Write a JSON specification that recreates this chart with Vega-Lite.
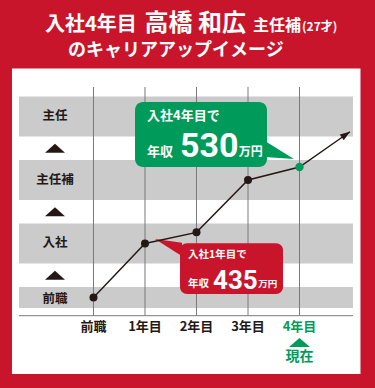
{
  "$schema": "https://vega.github.io/schema/vega-lite/v6.json",
  "width": 375,
  "height": 388,
  "autosize": {"type": "fit", "contains": "padding"},
  "padding": 0,
  "background": "#c8152c",
  "config": {"view": {"stroke": null}, "font": "Noto Sans CJK JP"},
  "encoding": {
    "x": {"field": "x", "type": "quantitative", "scale": {"domain": [-1.8155, 5.466], "nice": false, "zero": false}, "axis": null},
    "y": {"field": "y", "type": "quantitative", "scale": {"domain": [-1.2756, 4.8346], "nice": false, "zero": false}, "axis": null}
  },
  "layer": [
    {
      "data": {"values": [{"x": -1.583, "x2": 5.184, "y": 3.756, "y2": -1.055}]},
      "mark": {"type": "rect", "color": "#ffffff"},
      "encoding": {"x2": {"field": "x2"}, "y2": {"field": "y2"}}
    },
    {
      "data": {"values": [
        {"band": "主任", "x": -1.447, "x2": 5.039, "y": 2.685, "y2": 3.315},
        {"band": "主任補", "x": -1.447, "x2": 5.039, "y": 1.685, "y2": 2.315},
        {"band": "入社", "x": -1.447, "x2": 5.039, "y": 0.685, "y2": 1.315},
        {"band": "前職", "x": -1.447, "x2": 5.039, "y": -0.016, "y2": 0.315}
      ]},
      "mark": {"type": "rect", "color": "#cbcbcb"},
      "encoding": {"x2": {"field": "x2"}, "y2": {"field": "y2"}}
    },
    {
      "data": {"values": [
        {"x": 0, "y": 3.465, "y2": -0.137},
        {"x": 1, "y": 3.465, "y2": -0.137},
        {"x": 2, "y": 3.465, "y2": -0.137},
        {"x": 3, "y": 3.465, "y2": -0.137},
        {"x": 4, "y": 3.465, "y2": -0.137}
      ]},
      "mark": {"type": "rule", "color": "#7a7a7a", "strokeWidth": 1},
      "encoding": {"y2": {"field": "y2"}}
    },
    {
      "data": {"values": [{"x": -1.447, "x2": 5.039, "y": -0.137}]},
      "mark": {"type": "rule", "color": "#7a7a7a", "strokeWidth": 1},
      "encoding": {"x2": {"field": "x2"}}
    },
    {
      "data": {"values": [
        {"t": "主任", "x": -0.748, "y": 3.0},
        {"t": "主任補", "x": -0.748, "y": 2.0},
        {"t": "入社", "x": -0.748, "y": 1.0},
        {"t": "前職", "x": -0.748, "y": 0.13}
      ]},
      "mark": {"type": "text", "align": "center", "baseline": "middle", "fontSize": 12.5, "fontWeight": "bold", "color": "#231815"},
      "encoding": {"text": {"field": "t"}}
    },
    {
      "data": {"values": [
        {"x": -0.748, "y": 2.5},
        {"x": -0.748, "y": 1.5},
        {"x": -0.748, "y": 0.5}
      ]},
      "mark": {"type": "point", "shape": "M-1,0.45L1,0.45L0,-0.45Z", "size": 400, "filled": true, "opacity": 1, "color": "#231815", "strokeWidth": 0}
    },
    {
      "data": {"values": [
        {"t": "前職", "x": 0, "y": -0.315},
        {"t": "1年目", "x": 1, "y": -0.315},
        {"t": "2年目", "x": 2, "y": -0.315},
        {"t": "3年目", "x": 3, "y": -0.315}
      ]},
      "mark": {"type": "text", "align": "center", "baseline": "middle", "fontSize": 13, "fontWeight": "bold", "color": "#231815"},
      "encoding": {"text": {"field": "t"}}
    },
    {
      "data": {"values": [{"t": "4年目", "x": 4, "y": -0.315}]},
      "mark": {"type": "text", "align": "center", "baseline": "middle", "fontSize": 13, "fontWeight": "bold", "color": "#009b5a"},
      "encoding": {"text": {"field": "t"}}
    },
    {
      "data": {"values": [{"x": 4, "y": -0.559}]},
      "mark": {"type": "point", "shape": "M-1,0.43L1,0.43L0,-0.43Z", "size": 441, "filled": true, "opacity": 1, "color": "#009b5a", "strokeWidth": 0}
    },
    {
      "data": {"values": [{"t": "現在", "x": 4, "y": -0.795}]},
      "mark": {"type": "text", "align": "center", "baseline": "middle", "fontSize": 14, "fontWeight": "bold", "color": "#009b5a"},
      "encoding": {"text": {"field": "t"}}
    },
    {
      "data": {"values": [{"x": 0.806, "x2": 3.369, "y": 2.205, "y2": 3.228}]},
      "mark": {"type": "rect", "color": "#009b5a", "cornerRadius": 8},
      "encoding": {"x2": {"field": "x2"}, "y2": {"field": "y2"}}
    },
    {
      "data": {"values": [
        {"x": 3.33, "y": 2.614, "y2": 2.362},
        {"x": 3.893, "y": 2.331, "y2": 2.331}
      ]},
      "mark": {"type": "area", "color": "#009b5a", "opacity": 1},
      "encoding": {"y2": {"field": "y2"}}
    },
    {
      "data": {"values": [{"x": 1.68, "x2": 3.68, "y": 0.205, "y2": 1.003}]},
      "mark": {"type": "rect", "color": "#c8152c", "cornerRadius": 7},
      "encoding": {"x2": {"field": "x2"}, "y2": {"field": "y2"}}
    },
    {
      "data": {"values": [
        {"x": 1.194, "y": 1.071, "y2": 1.071},
        {"x": 1.72, "y": 1.01, "y2": 0.8}
      ]},
      "mark": {"type": "area", "color": "#c8152c", "opacity": 1},
      "encoding": {"y2": {"field": "y2"}}
    },
    {
      "data": {"values": [
        {"t": "入社4年目で", "x": 1.039, "y": 3.008},
        {"t": "年収", "x": 1.039, "y": 2.441}
      ]},
      "mark": {"type": "text", "align": "left", "baseline": "middle", "fontSize": 13, "fontWeight": "bold", "color": "#ffffff"},
      "encoding": {"text": {"field": "t"}}
    },
    {
      "data": {"values": [{"t": "530", "x": 1.68, "y": 2.37}]},
      "mark": {"type": "text", "align": "left", "baseline": "alphabetic", "fontSize": 34, "fontWeight": "bold", "font": "Noto Sans SemiCondensed, Roboto", "color": "#ffffff"},
      "encoding": {"text": {"field": "t"}}
    },
    {
      "data": {"values": [{"t": "万円", "x": 2.82, "y": 2.441}]},
      "mark": {"type": "text", "align": "left", "baseline": "middle", "fontSize": 12, "fontWeight": "bold", "color": "#ffffff"},
      "encoding": {"text": {"field": "t"}}
    },
    {
      "data": {"values": [
        {"t": "入社1年目で", "x": 1.835, "y": 0.819},
        {"t": "年収", "x": 1.835, "y": 0.37}
      ]},
      "mark": {"type": "text", "align": "left", "baseline": "middle", "fontSize": 10.5, "fontWeight": "bold", "color": "#ffffff"},
      "encoding": {"text": {"field": "t"}}
    },
    {
      "data": {"values": [{"t": "435", "x": 2.32, "y": 0.285}]},
      "mark": {"type": "text", "align": "left", "baseline": "alphabetic", "fontSize": 26, "fontWeight": "bold", "font": "Noto Sans SemiCondensed, Roboto", "color": "#ffffff"},
      "encoding": {"text": {"field": "t"}}
    },
    {
      "data": {"values": [{"t": "万円", "x": 3.2, "y": 0.362}]},
      "mark": {"type": "text", "align": "left", "baseline": "middle", "fontSize": 9.5, "fontWeight": "bold", "color": "#ffffff"},
      "encoding": {"text": {"field": "t"}}
    },
    {
      "data": {"values": [
        {"stage": "前職", "x": 0, "y": 0.15},
        {"stage": "1年目", "x": 1, "y": 1.0},
        {"stage": "2年目", "x": 2, "y": 1.176},
        {"stage": "3年目", "x": 3, "y": 2.0},
        {"stage": "4年目", "x": 4, "y": 2.205},
        {"stage": "arrow", "x": 4.98, "y": 2.76}
      ]},
      "layer": [
        {
          "mark": {"type": "line", "color": "#231815", "strokeWidth": 1.4}
        },
        {
          "transform": [{"filter": "datum.stage !== 'arrow' && datum.stage !== '4年目'"}],
          "mark": {"type": "point", "shape": "circle", "size": 64, "filled": true, "opacity": 1, "color": "#231815", "strokeWidth": 0}
        },
        {
          "transform": [{"filter": "datum.stage === '4年目'"}],
          "mark": {"type": "point", "shape": "circle", "size": 70, "filled": true, "opacity": 1, "color": "#009b5a", "strokeWidth": 0}
        },
        {
          "transform": [{"filter": "datum.stage === 'arrow'"}],
          "mark": {"type": "point", "shape": "M0,0L-2,-0.7L-2,0.7Z", "size": 100, "angle": 325.3, "filled": true, "opacity": 1, "color": "#231815", "strokeWidth": 0}
        }
      ]
    },
    {
      "data": {"values": [{"t": "入社4年目", "x": -0.942, "y": 4.346}]},
      "mark": {"type": "text", "align": "left", "baseline": "alphabetic", "fontSize": 20, "fontWeight": "bold", "color": "#ffffff"},
      "encoding": {"text": {"field": "t"}}
    },
    {
      "data": {"values": [{"t": "高橋 和広", "x": 0.99, "y": 4.346}]},
      "mark": {"type": "text", "align": "left", "baseline": "alphabetic", "fontSize": 24, "fontWeight": "bold", "color": "#ffffff"},
      "encoding": {"text": {"field": "t"}}
    },
    {
      "data": {"values": [{"t": "主任補", "x": 3.097, "y": 4.346}]},
      "mark": {"type": "text", "align": "left", "baseline": "alphabetic", "fontSize": 16, "fontWeight": "bold", "color": "#ffffff"},
      "encoding": {"text": {"field": "t"}}
    },
    {
      "data": {"values": [{"t": "(27才)", "x": 4.049, "y": 4.346}]},
      "mark": {"type": "text", "align": "left", "baseline": "alphabetic", "fontSize": 12, "fontWeight": "bold", "color": "#ffffff"},
      "encoding": {"text": {"field": "t"}}
    },
    {
      "data": {"values": [{"t": "のキャリアアップイメージ", "x": -0.495, "y": 3.953}]},
      "mark": {"type": "text", "align": "left", "baseline": "alphabetic", "fontSize": 18, "fontWeight": "bold", "color": "#ffffff"},
      "encoding": {"text": {"field": "t"}}
    }
  ]
}
